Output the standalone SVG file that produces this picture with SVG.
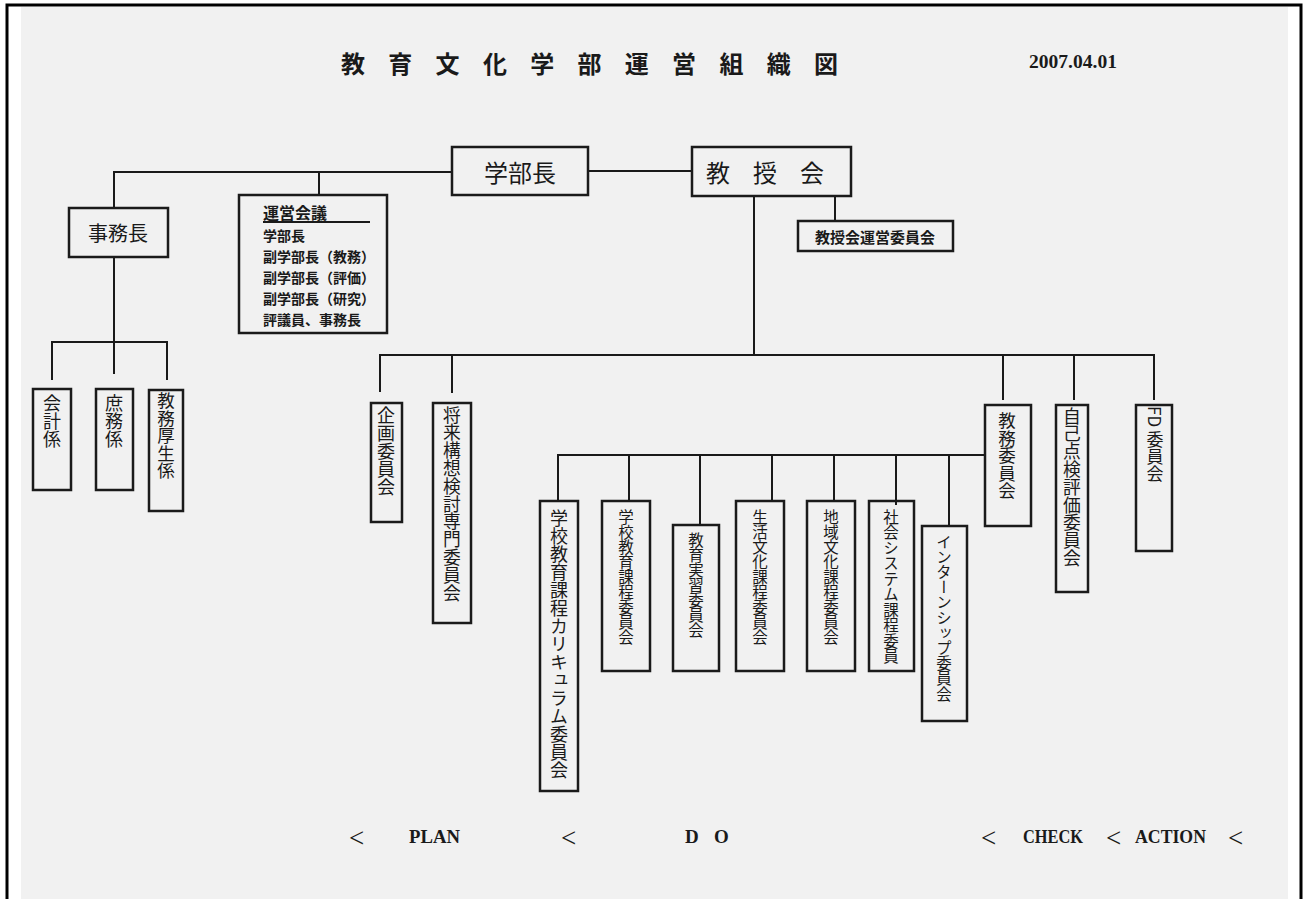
<svg xmlns="http://www.w3.org/2000/svg" width="1304" height="899" viewBox="0 0 1304 899">
<style>
.box{fill:none;stroke:#1a1a1a;stroke-width:2.5}
.ln{fill:none;stroke:#1a1a1a;stroke-width:2}
.jp{font-family:"Noto Sans CJK JP","Noto Sans",sans-serif;fill:#1a1a1a}
.h{dominant-baseline:central;text-anchor:middle}
.v{writing-mode:vertical-rl;text-anchor:start}
.en{font-family:"Liberation Serif",serif;fill:#1a1a1a}
.lt{font-family:"Liberation Serif",serif;fill:#1a1a1a;font-size:27px}
.w{font-family:"Liberation Serif",serif;fill:#1a1a1a;font-size:19px;font-weight:bold}
</style>
<rect x="0" y="0" width="1304" height="899" fill="#ffffff"/>
<rect x="21" y="7" width="1267" height="892" fill="#f1f1f1"/>
<path d="M7 899 V5 H1301 V899" fill="none" stroke="#000" stroke-width="3"/>

<g id="title">
<text class="jp" font-size="24" font-weight="bold" y="62" dominant-baseline="central" x="341 388.3 435.6 482.9 530.2 577.5 624.8 672.1 719.4 766.7 814">教育文化学部運営組織図</text>
<text class="en" font-size="18" font-weight="bold" x="1029" y="68" textLength="88" lengthAdjust="spacingAndGlyphs">2007.04.01</text>
</g>

<g id="connectors">
<path class="ln" d="M114 208 V172 H453"/>
<path class="ln" d="M319 172 V195"/>
<path class="ln" d="M588 171 H692"/>
<path class="ln" d="M114 257 V342"/>
<path class="ln" d="M52 380 V342 H167 V380"/>
<path class="ln" d="M114 342 V374"/>
<path class="ln" d="M754 196 V355"/>
<path class="ln" d="M835 196 V221"/>
<path class="ln" d="M380 392 V355 H1154 V400"/>
<path class="ln" d="M452 355 V393"/>
<path class="ln" d="M1003 355 V400"/>
<path class="ln" d="M1074 355 V400"/>
<path class="ln" d="M558 501 V455 H985"/>
<path class="ln" d="M629 455 V501"/>
<path class="ln" d="M700 455 V525"/>
<path class="ln" d="M772 455 V501"/>
<path class="ln" d="M834 455 V501"/>
<path class="ln" d="M896 455 V505"/>
<path class="ln" d="M949 455 V526"/>
</g>

<g id="gakubucho">
<rect class="box" x="452" y="147" width="136" height="48"/>
<text class="jp h" font-size="24" x="520" y="171">学部長</text>
</g>
<g id="kyojukai">
<rect class="box" x="692" y="147" width="159" height="49"/>
<text class="jp" font-size="24" y="171" dominant-baseline="central" x="706 753 800">教授会</text>
</g>
<g id="jimucho">
<rect class="box" x="69" y="208" width="99" height="49"/>
<text class="jp h" font-size="20" x="118" y="232">事務長</text>
</g>
<g id="uneikaigi">
<rect class="box" x="239" y="195" width="148" height="138"/>
<text class="jp" font-size="16" font-weight="bold" x="263" y="219">運営会議</text>
<path class="ln" d="M263 222 H370"/>
<text class="jp" font-size="14" font-weight="bold" x="263" y="241">学部長</text>
<text class="jp" font-size="14" font-weight="bold" x="263" y="262">副学部長（教務）</text>
<text class="jp" font-size="14" font-weight="bold" x="263" y="283">副学部長（評価）</text>
<text class="jp" font-size="14" font-weight="bold" x="263" y="304">副学部長（研究）</text>
<text class="jp" font-size="14" font-weight="bold" x="263" y="325">評議員、事務長</text>
</g>
<g id="kyojukai-unei">
<rect class="box" x="798" y="221" width="155" height="30"/>
<text class="jp h" font-size="15" font-weight="bold" x="875" y="236">教授会運営委員会</text>
</g>

<g id="kaikei">
<rect class="box" x="33" y="389" width="38" height="101"/>
<text class="jp v" font-size="18" x="52" y="394">会計係</text>
</g>
<g id="shomu">
<rect class="box" x="96" y="389" width="37" height="101"/>
<text class="jp v" font-size="18" x="114" y="394">庶務係</text>
</g>
<g id="kyomukosei">
<rect class="box" x="149" y="390" width="34" height="121"/>
<text class="jp v" font-size="17.5" x="166" y="392">教務厚生係</text>
</g>

<g id="kikaku">
<rect class="box" x="371" y="403" width="31" height="119"/>
<text class="jp v" font-size="18" x="386" y="406">企画委員会</text>
</g>
<g id="shorai">
<rect class="box" x="433" y="403" width="38" height="220"/>
<text class="jp v" font-size="17.8" x="452" y="406">将来構想検討専門委員会</text>
</g>

<g id="curriculum">
<rect class="box" x="540" y="501" width="38" height="290"/>
<text class="jp v" font-size="18" x="559" y="509">学校教育課程カリキュラム委員会</text>
</g>
<g id="gakko">
<rect class="box" x="602" y="501" width="48" height="170"/>
<text class="jp v" font-size="15.5" letter-spacing="-0.4" x="626" y="509">学校教育課程委員会</text>
</g>
<g id="jisshu">
<rect class="box" x="673" y="525" width="46" height="146"/>
<text class="jp v" font-size="15.5" letter-spacing="-0.4" x="696" y="532">教育実習委員会</text>
</g>
<g id="seikatsu">
<rect class="box" x="736" y="501" width="48" height="170"/>
<text class="jp v" font-size="15.5" letter-spacing="-0.4" x="760" y="509">生活文化課程委員会</text>
</g>
<g id="chiiki">
<rect class="box" x="807" y="501" width="48" height="170"/>
<text class="jp v" font-size="15.5" letter-spacing="-0.4" x="831" y="509">地域文化課程委員会</text>
</g>
<g id="shakai">
<rect class="box" x="869" y="501" width="45" height="170"/>
<text class="jp v" font-size="15.5" x="891" y="509">社会システム課程委員</text>
</g>
<g id="intern">
<rect class="box" x="922" y="526" width="45" height="195"/>
<text class="jp v" font-size="15.5" letter-spacing="-0.3" x="944" y="534">インターンシップ委員会</text>
</g>

<g id="kyomu">
<rect class="box" x="985" y="405" width="46" height="121"/>
<text class="jp v" font-size="17.5" x="1007" y="412">教務委員会</text>
</g>
<g id="jiko">
<rect class="box" x="1056" y="405" width="32" height="187"/>
<text class="jp v" font-size="17.8" x="1072" y="407">自己点検評価委員会</text>
</g>
<g id="fd">
<rect class="box" x="1136" y="405" width="36" height="146"/>
<text class="jp v" font-size="17" x="1155" y="406">FD 委員会</text>
</g>

<g id="pdca">
<text class="lt" x="349" y="847">&lt;</text>
<text class="w" x="409" y="843" textLength="51" lengthAdjust="spacingAndGlyphs">PLAN</text>
<text class="lt" x="561" y="847">&lt;</text>
<text class="w" x="685" y="843">D</text>
<text class="w" x="714" y="843">O</text>
<text class="lt" x="981" y="847">&lt;</text>
<text class="w" x="1023" y="843" textLength="60" lengthAdjust="spacingAndGlyphs">CHECK</text>
<text class="lt" x="1106" y="847">&lt;</text>
<text class="w" x="1135" y="843" textLength="71" lengthAdjust="spacingAndGlyphs">ACTION</text>
<text class="lt" x="1228" y="847">&lt;</text>
</g>
</svg>
